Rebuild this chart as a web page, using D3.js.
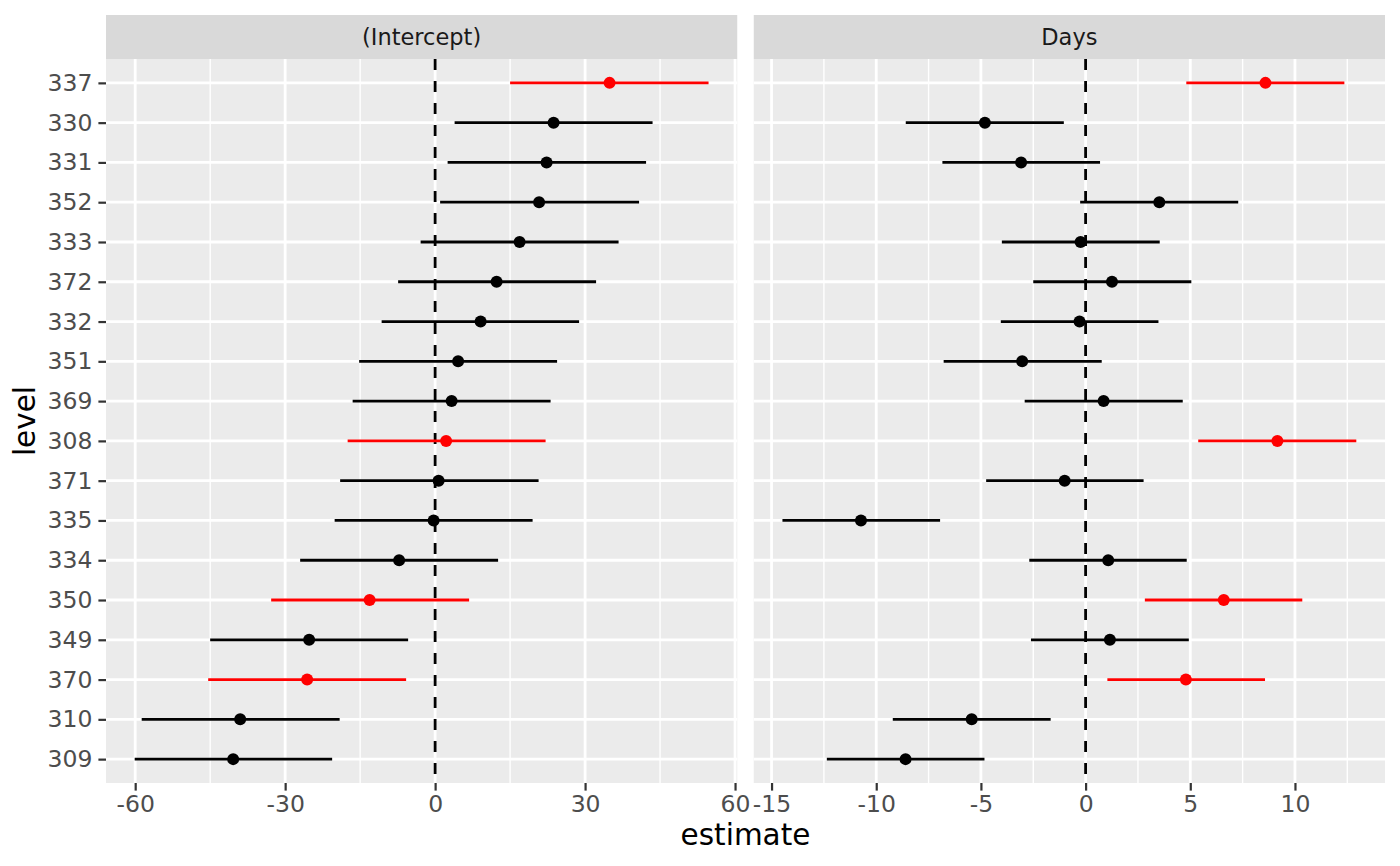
<!DOCTYPE html>
<html>
<head>
<meta charset="utf-8">
<script src="https://cdn.jsdelivr.net/npm/d3@7"></script>
<style>
  body { margin: 0; background: #fff; }
  text { font-family: "DejaVu Sans", sans-serif; }
</style>
</head>
<body>
<div id="chart"></div>
<script>
// levels, top to bottom
var levels = ["337","330","331","352","333","372","332","351","369","308","371","335","334","350","349","370","310","309"];
var flagged = ["337","308","350","370"];

var facets = ["(Intercept)", "Days"];

// (Intercept)
var intEst   = [34.9, 23.7, 22.3, 20.8, 16.9, 12.3, 9.1, 4.6, 3.3, 2.2, 0.7, -0.3, -7.2, -13.1, -25.2, -25.6, -39.0, -40.4];
var intLower = [15.0, 3.9, 2.5, 1.0, -2.9, -7.4, -10.7, -15.2, -16.5, -17.5, -19.0, -20.1, -27.0, -32.8, -45.0, -45.4, -58.7, -60.1];
var intUpper = [54.7, 43.5, 42.2, 40.8, 36.7, 32.2, 28.8, 24.4, 23.1, 22.1, 20.7, 19.5, 12.6, 6.8, -5.4, -5.8, -19.1, -20.6];

// Days
var daysEst   = [8.59, -4.81, -3.08, 3.52, -0.24, 1.26, -0.29, -3.03, 0.86, 9.16, -1.0, -10.73, 1.08, 6.6, 1.16, 4.79, -5.44, -8.6];
var daysLower = [4.81, -8.59, -6.84, -0.26, -4.0, -2.5, -4.05, -6.78, -2.91, 5.38, -4.75, -14.48, -2.69, 2.83, -2.61, 1.04, -9.21, -12.36];
var daysUpper = [12.36, -1.04, 0.69, 7.29, 3.54, 5.05, 3.48, 0.77, 4.64, 12.93, 2.77, -6.95, 4.83, 10.35, 4.93, 8.57, -1.67, -4.83];

var intTicks  = [-60, -30, 0, 30, 60];
var intMinor  = [-45, -15, 15, 45];
var daysTicks = [-15, -10, -5, 0, 5, 10];
var daysMinor = [-12.5, -7.5, -2.5, 2.5, 7.5, 12.5];

var width = 1400, height = 866;
var margin = {top: 15, right: 15, bottom: 83, left: 106},
    stripH = 44,
    gap = 16.5;
var panelW = (width - margin.left - margin.right - gap) / 2,
    panelTop = margin.top + stripH,
    panelBottom = height - margin.bottom;

var panels = [
    {name: facets[0], est: intEst, lo: intLower, hi: intUpper, ticks: intTicks, minor: intMinor},
    {name: facets[1], est: daysEst, lo: daysLower, hi: daysUpper, ticks: daysTicks, minor: daysMinor}
];

var svg = d3.select("#chart")
    .append("svg")
    .attr("width", width)
    .attr("height", height);

// discrete y with ggplot style 0.6 expansion
var yScale = d3.scalePoint()
    .domain(levels)
    .range([panelTop, panelBottom])
    .padding(0.6);

panels.forEach(function(p, k){
    var x0 = margin.left + k * (panelW + gap);

    var rows = levels.map(function(l, i){
        return {level: l, est: p.est[i], lo: p.lo[i], hi: p.hi[i], flag: flagged.indexOf(l) >= 0};
    });

    var lo = d3.min(rows, d => d.lo), hi = d3.max(rows, d => d.hi);
    var pad = (hi - lo) * 0.05;
    var xScale = d3.scaleLinear()
        .domain([lo - pad, hi + pad])
        .range([x0, x0 + panelW]);

    // strip
    svg.append("rect")
        .attr("x", x0).attr("y", margin.top)
        .attr("width", panelW).attr("height", stripH)
        .attr("fill", "#D9D9D9");
    svg.append("text")
        .attr("x", x0 + panelW / 2)
        .attr("y", margin.top + stripH / 2 + 8)
        .attr("text-anchor", "middle")
        .attr("font-size", 22.5)
        .attr("fill", "#1A1A1A")
        .text(p.name);

    // panel background
    svg.append("rect")
        .attr("x", x0).attr("y", panelTop)
        .attr("width", panelW).attr("height", panelBottom - panelTop)
        .attr("fill", "#EBEBEB");

    var grid = svg.append("g");
    grid.selectAll(null)
        .data(p.minor)
        .enter()
        .append("line")
        .attr("x1", d => xScale(d)).attr("x2", d => xScale(d))
        .attr("y1", panelTop).attr("y2", panelBottom)
        .attr("stroke", "#fff").attr("stroke-width", 1.4);
    grid.selectAll(null)
        .data(p.ticks)
        .enter()
        .append("line")
        .attr("x1", d => xScale(d)).attr("x2", d => xScale(d))
        .attr("y1", panelTop).attr("y2", panelBottom)
        .attr("stroke", "#fff").attr("stroke-width", 2.8);
    grid.selectAll(null)
        .data(levels)
        .enter()
        .append("line")
        .attr("x1", x0).attr("x2", x0 + panelW)
        .attr("y1", d => yScale(d)).attr("y2", d => yScale(d))
        .attr("stroke", "#fff").attr("stroke-width", 2.8);

    // zero reference
    svg.append("line")
        .attr("x1", xScale(0)).attr("x2", xScale(0))
        .attr("y1", panelTop).attr("y2", panelBottom)
        .attr("stroke", "#000")
        .attr("stroke-width", 2.8)
        .attr("stroke-dasharray", "11,11");

    var marks = svg.append("g");
    marks.selectAll(null)
        .data(rows)
        .enter()
        .append("line")
        .attr("x1", d => xScale(d.lo)).attr("x2", d => xScale(d.hi))
        .attr("y1", d => yScale(d.level)).attr("y2", d => yScale(d.level))
        .attr("stroke", d => d.flag ? "#FF0000" : "#000")
        .attr("stroke-width", 2.8);
    marks.selectAll(null)
        .data(rows)
        .enter()
        .append("circle")
        .attr("cx", d => xScale(d.est))
        .attr("cy", d => yScale(d.level))
        .attr("r", 6)
        .attr("fill", d => d.flag ? "#FF0000" : "#000");

    // x axis
    var xAxis = svg.append("g")
        .attr("transform", "translate(0," + panelBottom + ")")
        .call(d3.axisBottom(xScale).tickValues(p.ticks).tickSize(7.6).tickPadding(5).tickFormat(d3.format("d")));
    xAxis.select(".domain").remove();
    xAxis.selectAll(".tick line").attr("stroke", "#333333").attr("stroke-width", 2.2);
    xAxis.selectAll(".tick text")
        .attr("font-size", 23.5)
        .attr("font-family", "DejaVu Sans")
        .attr("fill", "#4D4D4D")
        .text(d => d < 0 ? "-" + Math.abs(d) : d);
});

// y axis
var yAxis = svg.append("g")
    .attr("transform", "translate(" + margin.left + ",0)")
    .call(d3.axisLeft(yScale).tickSize(7.6).tickPadding(6));
yAxis.select(".domain").remove();
yAxis.selectAll(".tick line").attr("stroke", "#333333").attr("stroke-width", 2.2);
yAxis.selectAll(".tick text")
    .attr("font-size", 23.5)
    .attr("font-family", "DejaVu Sans")
    .attr("fill", "#4D4D4D");

// axis titles
svg.append("text")
    .attr("x", margin.left + (width - margin.left - margin.right) / 2)
    .attr("y", 845)
    .attr("text-anchor", "middle")
    .attr("font-size", 29.5)
    .attr("fill", "#000")
    .text("estimate");

svg.append("text")
    .attr("transform", "translate(35," + ((panelTop + panelBottom) / 2) + ") rotate(-90)")
    .attr("text-anchor", "middle")
    .attr("font-size", 29.5)
    .attr("fill", "#000")
    .text("level");
</script>
</body>
</html>
